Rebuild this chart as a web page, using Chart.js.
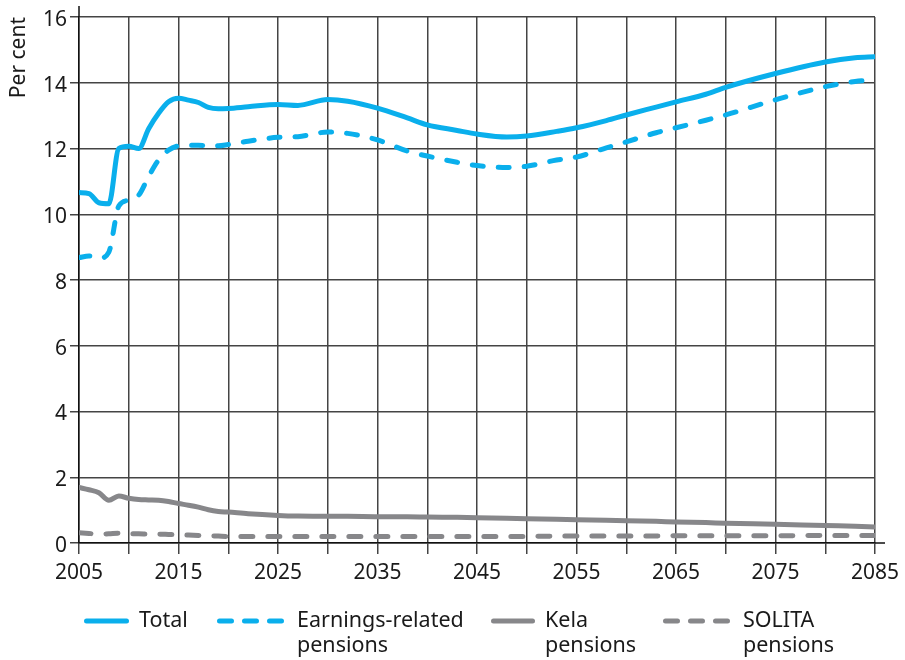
<!DOCTYPE html>
<html>
<head>
<meta charset="utf-8">
<script src="https://cdn.jsdelivr.net/npm/chart.js@4.4.1/dist/chart.umd.min.js"></script>
<style>
    html, body { margin: 0; padding: 0; background: #fff; }
    #wrap { width: 905px; height: 660px; position: relative; }
</style>
</head>
<body>
<div id="wrap"><canvas id="lineChart"></canvas></div>
<script>
// pension expenditure, per cent of GDP
const years = [2005, 2006, 2007, 2008, 2009, 2010, 2011, 2012, 2013, 2014, 2015, 2016, 2017, 2018, 2019, 2020,
    2022, 2025, 2027, 2030, 2032, 2035, 2038, 2040, 2043, 2045, 2048, 2050, 2053, 2055, 2058, 2060,
    2063, 2065, 2068, 2070, 2075, 2080, 2083, 2085];
const totalPension = [10.66, 10.63, 10.35, 10.32, 12.0, 12.07, 12.0, 12.6, 13.07, 13.42, 13.53, 13.47, 13.4, 13.25, 13.21, 13.22,
    13.27, 13.34, 13.31, 13.49, 13.44, 13.23, 12.93, 12.72, 12.55, 12.44, 12.35, 12.38, 12.52, 12.63, 12.85, 13.02,
    13.26, 13.42, 13.65, 13.86, 14.28, 14.63, 14.76, 14.79];
const earningsRelated = [8.68, 8.73, 8.66, 8.85, 10.25, 10.43, 10.58, 11.15, 11.65, 11.95, 12.08, 12.1, 12.1, 12.08, 12.08, 12.12,
    12.22, 12.34, 12.36, 12.5, 12.46, 12.26, 11.92, 11.77, 11.58, 11.48, 11.42, 11.46, 11.65, 11.74, 12.02, 12.2,
    12.48, 12.63, 12.86, 13.02, 13.48, 13.88, 14.04, 14.08];
const kelaPension = [1.69, 1.62, 1.53, 1.3, 1.43, 1.36, 1.32, 1.31, 1.3, 1.26, 1.2, 1.15, 1.09, 1.01, 0.96, 0.94,
    0.89, 0.84, 0.82, 0.81, 0.81, 0.8, 0.8, 0.79, 0.78, 0.77, 0.75, 0.74, 0.72, 0.71, 0.69, 0.68,
    0.66, 0.64, 0.62, 0.6, 0.57, 0.53, 0.51, 0.49];
const solitaPension = [0.31, 0.29, 0.27, 0.28, 0.3, 0.28, 0.28, 0.27, 0.27, 0.26, 0.25, 0.24, 0.23, 0.22, 0.21, 0.2,
    0.2, 0.2, 0.2, 0.2, 0.2, 0.2, 0.2, 0.2, 0.2, 0.2, 0.2, 0.2, 0.21, 0.21, 0.21, 0.21,
    0.21, 0.22, 0.22, 0.22, 0.22, 0.23, 0.23, 0.23];
const seriesNames = [['Total'], ['Earnings-related', 'pensions'], ['Kela', 'pensions'], ['SOLITA', 'pensions']];
const xLabelYears = [2005, 2015, 2025, 2035, 2045, 2055, 2065, 2075, 2085];

const blue = '#0aafec';
const grey = '#87878a';
const fontFamily = '"Noto Sans", "Open Sans", sans-serif';

function points(values) {
    return years.map((yr, i) => ({ x: yr, y: values[i] }));
}

// legend drawn under the x axis, with two-line labels
const bottomLegend = {
    id: 'bottomLegend',
    afterDraw(chart) {
        const ctx = chart.ctx;
        const area = chart.chartArea;
        ctx.save();

        // axis lines run a little past the plot
        ctx.strokeStyle = '#111';
        ctx.lineWidth = 1.5;
        ctx.beginPath();
        ctx.moveTo(area.left, area.top);
        ctx.lineTo(area.left, area.top - 11);
        ctx.moveTo(area.right, area.bottom);
        ctx.lineTo(area.right + 10, area.bottom);
        ctx.stroke();

        const sampleX = [84, 217, 491, 663];
        const sampleLen = [45, 70, 44, 70];
        const rowY = 621;
        ctx.font = '21.5px ' + fontFamily;
        ctx.textBaseline = 'middle';
        ctx.textAlign = 'left';
        chart.data.datasets.forEach((ds, i) => {
            ctx.strokeStyle = ds.borderColor;
            ctx.lineWidth = 5;
            ctx.lineCap = 'round';
            ctx.setLineDash(ds.borderDash && ds.borderDash.length ? [12, 13] : []);
            ctx.beginPath();
            ctx.moveTo(sampleX[i] + 2.5, rowY);
            ctx.lineTo(sampleX[i] + sampleLen[i] - 2.5, rowY);
            ctx.stroke();
            ctx.setLineDash([]);
            ctx.fillStyle = '#1a1a1a';
            seriesNames[i].forEach((line, j) => {
                ctx.fillText(line, sampleX[i] + sampleLen[i] + 10, rowY + j * 25);
            });
        });
        ctx.restore();
    }
};

const chartEl = document.getElementById('lineChart');
const myChart = new Chart(chartEl, {
    type: 'line',
    data: {
        datasets: [
            {
                label: seriesNames[0].join(' '),
                data: points(totalPension),
                borderColor: blue,
                borderWidth: 5
            },
            {
                label: seriesNames[1].join(' '),
                data: points(earningsRelated),
                borderColor: blue,
                borderWidth: 5,
                borderDash: [11, 15]
            },
            {
                label: seriesNames[2].join(' '),
                data: points(kelaPension),
                borderColor: grey,
                borderWidth: 5
            },
            {
                label: seriesNames[3].join(' '),
                data: points(solitaPension),
                borderColor: grey,
                borderWidth: 5,
                borderDash: [12, 15]
            }
        ]
    },
    options: {
        responsive: true,
        maintainAspectRatio: false,
        animation: false,
        layout: {
            padding: { left: 0, right: 30, top: 17, bottom: 72 }
        },
        elements: {
            point: { radius: 0 },
            line: { fill: false, tension: 0.35, cubicInterpolationMode: 'monotone', borderCapStyle: 'round', borderJoinStyle: 'round' }
        },
        plugins: {
            legend: { display: false },
            tooltip: { enabled: false }
        },
        scales: {
            x: {
                type: 'linear',
                min: 2005,
                max: 2085,
                ticks: {
                    stepSize: 5,
                    autoSkip: false,
                    maxRotation: 0,
                    padding: 6,
                    color: '#1a1a1a',
                    font: { family: fontFamily, size: 21 },
                    callback: v => xLabelYears.includes(v) ? String(v) : ''
                },
                grid: { color: '#444', lineWidth: 1.5, tickLength: 11 },
                border: { color: '#111', width: 1.5 },
                afterFit: s => { s.height = 45; s.paddingLeft = 0; s.paddingRight = 0; }
            },
            y: {
                min: 0,
                max: 16,
                ticks: {
                    stepSize: 2,
                    padding: 3,
                    labelOffset: 3,
                    color: '#1a1a1a',
                    font: { family: fontFamily, size: 21 }
                },
                grid: { color: '#444', lineWidth: 1.5, tickLength: 9 },
                border: { color: '#111', width: 1.5 },
                title: {
                    display: true,
                    text: 'Per cent',
                    align: 'end',
                    color: '#1a1a1a',
                    font: { family: fontFamily, size: 21 },
                    padding: { top: 6, bottom: 0 }
                },
                afterFit: s => { s.width = 79; s.paddingTop = 0; s.paddingBottom = 0; }
            }
        }
    },
    plugins: [bottomLegend]
});
</script>
</body>
</html>
